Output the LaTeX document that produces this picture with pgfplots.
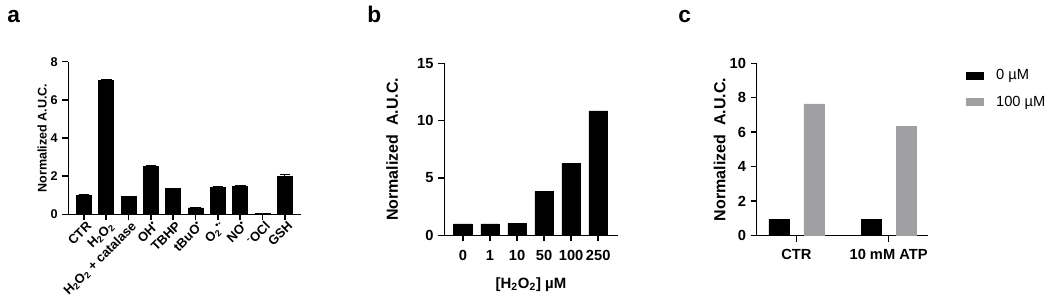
\documentclass[border=0pt]{standalone}
\usepackage{pgfplots}
\pgfplotsset{compat=1.18}
\usepackage{fontspec}
\setmainfont{Liberation Sans}
\definecolor{barg}{RGB}{160,160,162}
\pgfplotsset{
  prism/.style={
    scale only axis,
    axis lines=left,
    axis line style={-, line width=1.1pt},
    tick align=outside,
    major tick length=4.5pt,
    tick style={line width=1.1pt, black},
    /pgf/number format/assume math mode=true,
    ymin=0,
    clip=false,
    ylabel style={anchor=center, font=\bfseries\fontsize{12}{14}\selectfont},
    xlabel style={font=\bfseries\fontsize{11.2}{13}\selectfont},
    tick label style={font=\bfseries\fontsize{11}{13}\selectfont},
  }
}
\begin{document}
\begin{tikzpicture}
\useasboundingbox (0,0) rectangle (787.5pt,224.25pt);
\node[anchor=base west, font=\bfseries\fontsize{17}{20}\selectfont, inner sep=0] at (5.25pt,207pt) {a};
\node[anchor=base west, font=\bfseries\fontsize{17}{20}\selectfont, inner sep=0] at (275.25pt,207pt) {b};
\node[anchor=base west, font=\bfseries\fontsize{17}{20}\selectfont, inner sep=0] at (508.5pt,207pt) {c};

% panel a
\begin{axis}[prism,
  at={(51.2pt,63.5pt)}, anchor=south west,
  width=174.5pt, height=114.45pt,
  xmin=-0.7, xmax=9.72, ymax=8,
  ytick={0,2,4,6,8},
  xtick={0,...,9},
  xticklabels={CTR, H\textsubscript{2}O\textsubscript{2}, H\textsubscript{2}O\textsubscript{2} + catalase, OH\textsuperscript{•}, TBHP, tBuO\textsuperscript{•}, O\textsubscript{2}\textsuperscript{•-}, NO\textsuperscript{•}, \textsuperscript{-}OCl, GSH},
  yticklabel style={font=\bfseries\fontsize{9.5}{11}\selectfont},
  xticklabel style={rotate=45, anchor=north east, inner sep=1pt, xshift=2pt, font=\bfseries\fontsize{9.7}{11}\selectfont},
  ylabel={Normalized A.U.C.},
  ylabel style={at={(axis description cs:-0.112,0.5)}, font=\bfseries\fontsize{9.4}{11}\selectfont},
  ybar, bar width=0.67,
]
\addplot[fill=black, draw=black,
  error bars/.cd, y dir=plus, y explicit,
  error mark options={rotate=90, mark size=4pt, line width=0.8pt},
  error bar style={line width=0.8pt}]
coordinates {
(0,1.0) +- (0,0.02)
(1,7.03) +- (0,0.03)
(2,0.93) +- (0,0.02)
(3,2.52) +- (0,0.02)
(4,1.35) +- (0,0.02)
(5,0.34) +- (0,0.03)
(6,1.43) +- (0,0.03)
(7,1.48) +- (0,0.03)
(8,0.04) +- (0,0.01)
(9,1.98) +- (0,0.12)
};
\end{axis}

% panel b
\begin{axis}[prism,
  at={(333.2pt,47.8pt)}, anchor=south west,
  width=130.05pt, height=129pt,
  xmin=-0.69, xmax=5.72, ymax=15,
  ytick={0,5,10,15},
  xtick={0,...,5},
  xticklabels={0,1,10,50,100,250},
  xticklabel style={yshift=-3pt},
  xlabel={[H\textsubscript{2}O\textsubscript{2}] µM},
  xlabel style={yshift=-6pt},
  ylabel={Normalized\ \ A.U.C.},
  ylabel style={at={(axis description cs:-0.30,0.5)}},
  ybar, bar width=0.68,
]
\addplot[fill=black, draw=black] coordinates {
(0,1.0) (1,1.0) (2,1.05) (3,3.81) (4,6.28) (5,10.84)
};
\end{axis}

% panel c
\begin{axis}[prism,
  at={(567.5pt,47.5pt)}, anchor=south west,
  width=128.7pt, height=129.3pt,
  xmin=-0.43, xmax=1.43, ymax=10,
  ytick={0,2,4,6,8,10},
  xtick={0,1},
  xticklabels={CTR,10 mM ATP},
  xticklabel style={yshift=-2pt},
  ylabel={Normalized\ \ A.U.C.},
  ylabel style={at={(axis description cs:-0.216,0.5)}},
  ybar, bar width=0.217,
  legend style={at={(axis description cs:1.22,0.98)}, anchor=north west, draw=none, fill=none,
    font=\fontsize{11}{13}\selectfont, row sep=6.5pt, inner sep=0pt},
  legend cell align=left,
  legend image code/.code={\fill[#1] (0pt,-2.6pt) rectangle (12.75pt,2.6pt); \path (20pt,0pt);},
]
\addplot[fill=black, draw=black, bar shift=-0.19] coordinates {(0,0.93) (1,0.93)};
\addlegendentry{0 µM}
\addplot[fill=barg, draw=barg, bar shift=0.19] coordinates {(0,7.64) (1,6.33)};
\addlegendentry{100 µM}
\end{axis}
\end{tikzpicture}
\end{document}
